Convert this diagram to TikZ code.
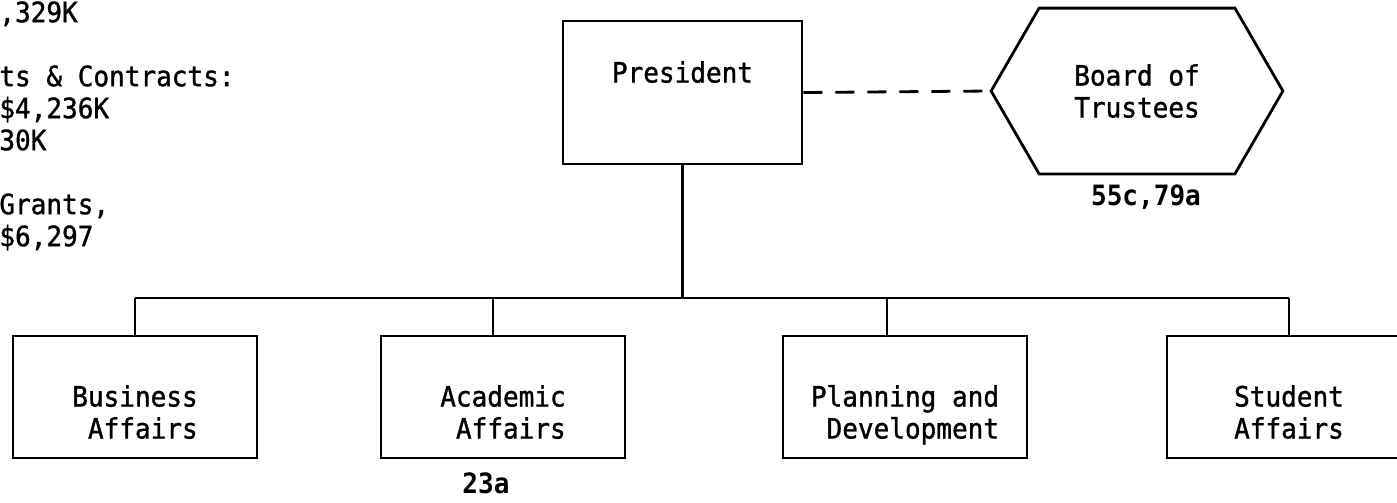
\documentclass[tikz,border=0pt]{standalone}
\usepackage{fontspec}
\setmonofont{DejaVu Sans Mono}[FakeBold=1.2, FakeStretch=0.93]
\newfontfamily\numface{DejaVu Sans Mono Bold}[FakeStretch=0.93]
\usetikzlibrary{calc}

\newcommand{\orgfont}{\ttfamily\fontsize{14}{16}\selectfont}
\newcommand{\indentsp}{\hphantom{A}}
\newcommand{\fullspace}{\spaceskip 0pt\relax}

\begin{document}
\begin{tikzpicture}[x=0.5pt, y=-0.5pt,
    unit/.style={draw, line width=1.4pt, font=\orgfont, align=center, text width=110pt, execute at begin node=\fullspace, minimum width=122pt, minimum height=61pt, text height=9.5pt, text depth=0pt},
    head/.style={draw, line width=1.4pt, font=\orgfont, minimum width=119.5pt, minimum height=71.5pt, text height=9.5pt, text depth=19.5pt},
    trust/.style={font=\orgfont, align=center, text width=110pt, execute at begin node=\fullspace, minimum width=145.5pt, minimum height=82.5pt, text height=9.5pt, text depth=15pt},
    txt/.style={font=\orgfont, align=left, inner sep=0pt},
    num/.style={font=\numface\fontsize{14}{16}\selectfont, inner sep=0pt},
    tie/.style={line width=1.4pt},
    dashline/.style={line width=1.4pt, dash pattern=on 9.5pt off 6.5pt}]
  \useasboundingbox (0,0) rectangle (1397,503);
  \clip (0,0) rectangle (1397,503);

  % funding notes, cut at the page edge
  \node[txt, anchor=north west] (funds) at (-1,1) {,329K\\[16pt]ts \& Contracts:\\\$4,236K\\30K\\[16pt]Grants,\\\$6,297};

  \node[head] (pres) at (682.5,92.5) {President};
  \node[trust] (board) at (1137,91) {Board of\\Trustees};
  \draw[tie] (board.west) -- ([xshift=24pt]board.north west) -- ([xshift=-24pt]board.north east) -- (board.east) -- ([xshift=-24pt]board.south east) -- ([xshift=24pt]board.south west) -- cycle;
  \node[num, anchor=base] (bnum) at (1146,205) {55c,79a};

  \node[unit] (biz) at (135,397) {Business\\\indentsp Affairs};
  \node[unit] (acad) at (503,397) {Academic\\\indentsp Affairs};
  \node[unit] (plan) at (905,397) {Planning and\\\indentsp Development};
  \node[unit] (stud) at (1289,397) {Student\\Affairs};
  \node[num, anchor=base] (anum) at (486,493) {23a};

  \coordinate (bus) at (0,298);
  \draw[dashline] (pres.east) -- (board.west);
  \draw[tie] (pres.south) -- (pres.south |- bus);
  \draw[tie] (biz.north |- bus) -- (stud.north |- bus);
  \draw[tie] (biz.north) -- (biz.north |- bus);
  \draw[tie] ([xshift=-5pt]acad.north) -- ++(0,-38);
  \draw[tie] ([xshift=-9pt]plan.north) -- ++(0,-38);
  \draw[tie] (stud.north) -- (stud.north |- bus);
\end{tikzpicture}
\end{document}
